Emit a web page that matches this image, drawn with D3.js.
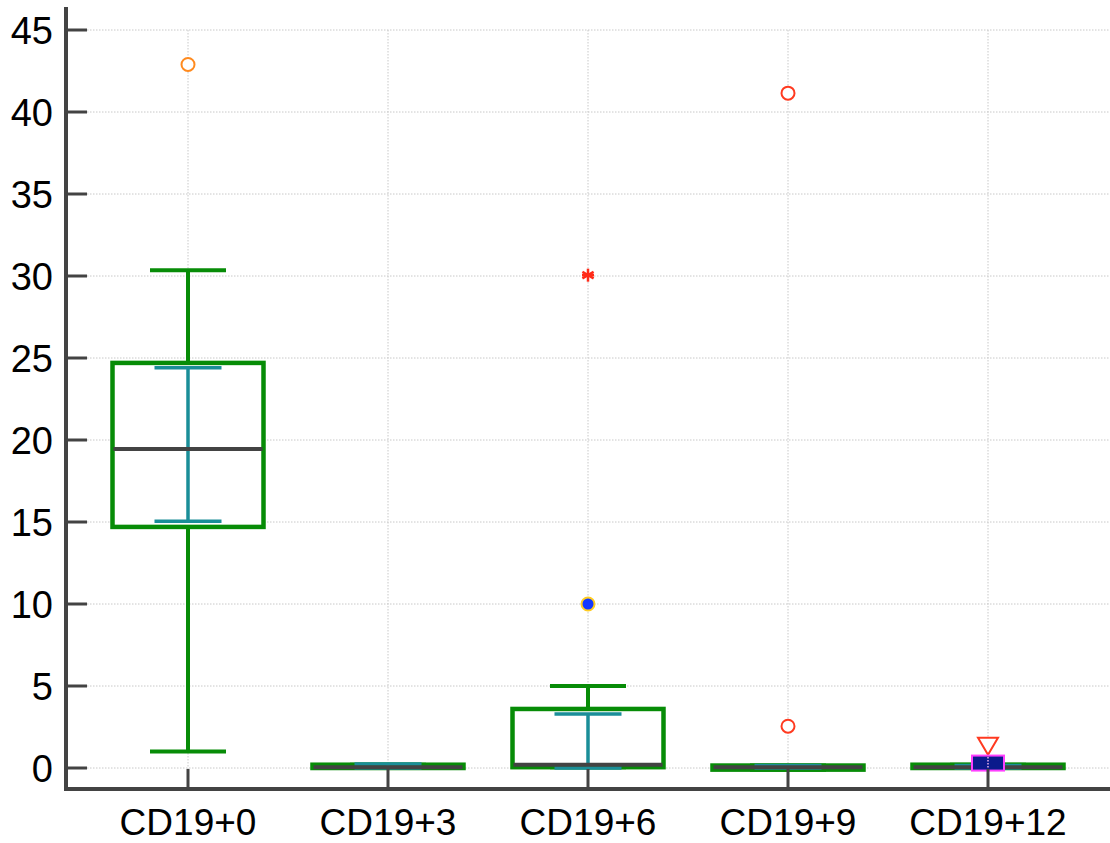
<!DOCTYPE html>
<html><head><meta charset="utf-8">
<script src="https://cdn.jsdelivr.net/npm/d3@7"></script>
<style>body{margin:0;background:#fff}svg{display:block}</style>
</head><body>
<script>
const categories = ["CD19+0","CD19+3","CD19+6","CD19+9","CD19+12"];
const q1 = [14.7, 0.0, 0.05, -0.1, 0.0];
const median = [19.45, 0.05, 0.2, 0.05, 0.05];
const q3 = [24.7, 0.2, 3.6, 0.15, 0.2];
const whiskerLow = [1.0, 0.0, 0.05, -0.1, 0.0];
const whiskerHigh = [30.35, 0.2, 5.0, 0.15, 0.2];
const sdHigh = [24.4, 0.25, 3.3, 0.15, 0.15];
const sdLow = [15.05, 0.0, 0.0, 0.0, 0.0];
const outlierCats = ["CD19+0","CD19+6","CD19+6","CD19+9","CD19+9","CD19+12","CD19+12"];
const outlierValues = [42.9, 30.05, 10.0, 41.15, 2.55, 1.35, 0.3];
const outlierShapes = ["circleOrange","star","dotBlue","circleRed","circleRed","triangle","square"];
const yTicks = [0,5,10,15,20,25,30,35,40,45];

const W = 1110, H = 843;
const svg = d3.select("body").append("svg").attr("width", W).attr("height", H);
const x = d3.scalePoint().domain(categories).range([188, 988]);
const y = d3.scaleLinear().domain([0, 45]).range([768, 30]);
const axisX = 66, axisY = 789;

// grid
const grid = svg.append("g");
grid.selectAll(".hg").data(yTicks).join("line")
  .attr("x1", 87).attr("x2", W).attr("y1", d => y(d)).attr("y2", d => y(d))
  .attr("stroke", "#c8c8c8").attr("stroke-width", 1).attr("stroke-dasharray", "1.5,1.5");
grid.selectAll(".vg").data(categories).join("line")
  .attr("x1", d => x(d)).attr("x2", d => x(d)).attr("y1", y(45)).attr("y2", 769)
  .attr("stroke", "#c8c8c8").attr("stroke-width", 1).attr("stroke-dasharray", "1.5,1.5");

const green = "#078c07", teal = "#1a8e98", dark = "#434343";
const boxW = 151, capW = 76, sdW = 67;

categories.forEach((c, i) => {
  const cx = x(c);
  const g = svg.append("g");
  g.append("line").attr("x1", cx).attr("x2", cx).attr("y1", y(whiskerHigh[i])).attr("y2", y(q3[i]))
    .attr("stroke", green).attr("stroke-width", 4);
  g.append("line").attr("x1", cx).attr("x2", cx).attr("y1", y(q1[i])).attr("y2", y(whiskerLow[i]))
    .attr("stroke", green).attr("stroke-width", 4);
  [whiskerHigh[i], whiskerLow[i]].forEach(v => {
    g.append("line").attr("x1", cx - capW/2).attr("x2", cx + capW/2).attr("y1", y(v)).attr("y2", y(v))
      .attr("stroke", green).attr("stroke-width", 4);
  });
  g.append("rect").attr("x", cx - boxW/2).attr("width", boxW)
    .attr("y", y(q3[i])).attr("height", Math.max(0.5, y(q1[i]) - y(q3[i])))
    .attr("fill", "#fff").attr("stroke", green).attr("stroke-width", 4.5);
  g.append("line").attr("x1", cx).attr("x2", cx).attr("y1", y(sdHigh[i])).attr("y2", y(sdLow[i]))
    .attr("stroke", teal).attr("stroke-width", 3.5);
  [sdHigh[i], sdLow[i]].forEach(v => {
    g.append("line").attr("x1", cx - sdW/2).attr("x2", cx + sdW/2).attr("y1", y(v)).attr("y2", y(v))
      .attr("stroke", teal).attr("stroke-width", 3.5);
  });
  g.append("line").attr("x1", cx - boxW/2 + 1).attr("x2", cx + boxW/2 - 1).attr("y1", y(median[i])).attr("y2", y(median[i]))
    .attr("stroke", dark).attr("stroke-width", 4);
});

const og = svg.append("g");
outlierValues.forEach((v, i) => {
  const cx = x(outlierCats[i]), cy = y(v), s = outlierShapes[i];
  if (s === "circleOrange") {
    og.append("circle").attr("cx", cx).attr("cy", cy).attr("r", 6.5).attr("fill", "#fff").attr("stroke", "#ff8a1e").attr("stroke-width", 2);
  } else if (s === "circleRed") {
    og.append("circle").attr("cx", cx).attr("cy", cy).attr("r", 6.5).attr("fill", "#fff").attr("stroke", "#ff3a20").attr("stroke-width", 2);
  } else if (s === "dotBlue") {
    og.append("circle").attr("cx", cx).attr("cy", cy).attr("r", 6.5).attr("fill", "#1438ff").attr("stroke", "#ffcc22").attr("stroke-width", 2);
  } else if (s === "star") {
    const r = 6.5;
    [30, 150].forEach(a => {
      const rad = a * Math.PI / 180;
      og.append("line").attr("x1", cx - r*Math.cos(rad)).attr("y1", cy - r*Math.sin(rad))
        .attr("x2", cx + r*Math.cos(rad)).attr("y2", cy + r*Math.sin(rad))
        .attr("stroke", "#ff2a18").attr("stroke-width", 2.5);
    });
    og.append("line").attr("x1", cx).attr("x2", cx).attr("y1", cy-6.5).attr("y2", cy+6.5).attr("stroke", "#ff2a18").attr("stroke-width", 2.5);
    og.append("line").attr("x1", cx-6).attr("x2", cx+6).attr("y1", cy).attr("y2", cy).attr("stroke", "#ff2a18").attr("stroke-width", 2.5);
  } else if (s === "triangle") {
    og.append("path").attr("d", `M${cx-10},${cy-8}L${cx+10},${cy-8}L${cx},${cy+9}Z`)
      .attr("fill", "#fff").attr("stroke", "#ff3a20").attr("stroke-width", 2);
  } else if (s === "square") {
    og.append("rect").attr("x", cx - 16).attr("y", cy - 7.5).attr("width", 32).attr("height", 15)
      .attr("fill", "#0b1a8c").attr("stroke", "#ff40ff").attr("stroke-width", 2);
    og.append("line").attr("x1", cx).attr("x2", cx).attr("y1", cy - 6).attr("y2", cy + 6)
      .attr("stroke", "#e8b0e8").attr("stroke-width", 1.5).attr("stroke-dasharray", "1.5,1.5");
  }
});

const ya = svg.append("g");
ya.append("line").attr("x1", axisX).attr("x2", axisX).attr("y1", 7).attr("y2", axisY + 2)
  .attr("stroke", dark).attr("stroke-width", 4);
ya.selectAll(".yt").data(yTicks).join("line")
  .attr("x1", axisX).attr("x2", 87).attr("y1", d => y(d)).attr("y2", d => y(d))
  .attr("stroke", dark).attr("stroke-width", 3);
ya.selectAll(".yl").data(yTicks).join("text")
  .attr("x", 53).attr("y", d => y(d)).attr("dy", "0.36em").attr("text-anchor", "end")
  .attr("font-family", "Liberation Sans, Arial, sans-serif").attr("font-size", 38).attr("fill", "#000")
  .text(d => d);

const xa = svg.append("g");
xa.append("line").attr("x1", axisX - 2).attr("x2", W).attr("y1", axisY).attr("y2", axisY)
  .attr("stroke", dark).attr("stroke-width", 4);
xa.selectAll(".xt").data(categories).join("line")
  .attr("x1", d => x(d)).attr("x2", d => x(d)).attr("y1", 769).attr("y2", axisY)
  .attr("stroke", dark).attr("stroke-width", 3);
xa.selectAll(".xl").data(categories).join("text")
  .attr("x", d => x(d)).attr("y", 835).attr("text-anchor", "middle")
  .attr("font-family", "Liberation Sans, Arial, sans-serif").attr("font-size", 37).attr("fill", "#000")
  .text(d => d);
</script>
</body></html>
